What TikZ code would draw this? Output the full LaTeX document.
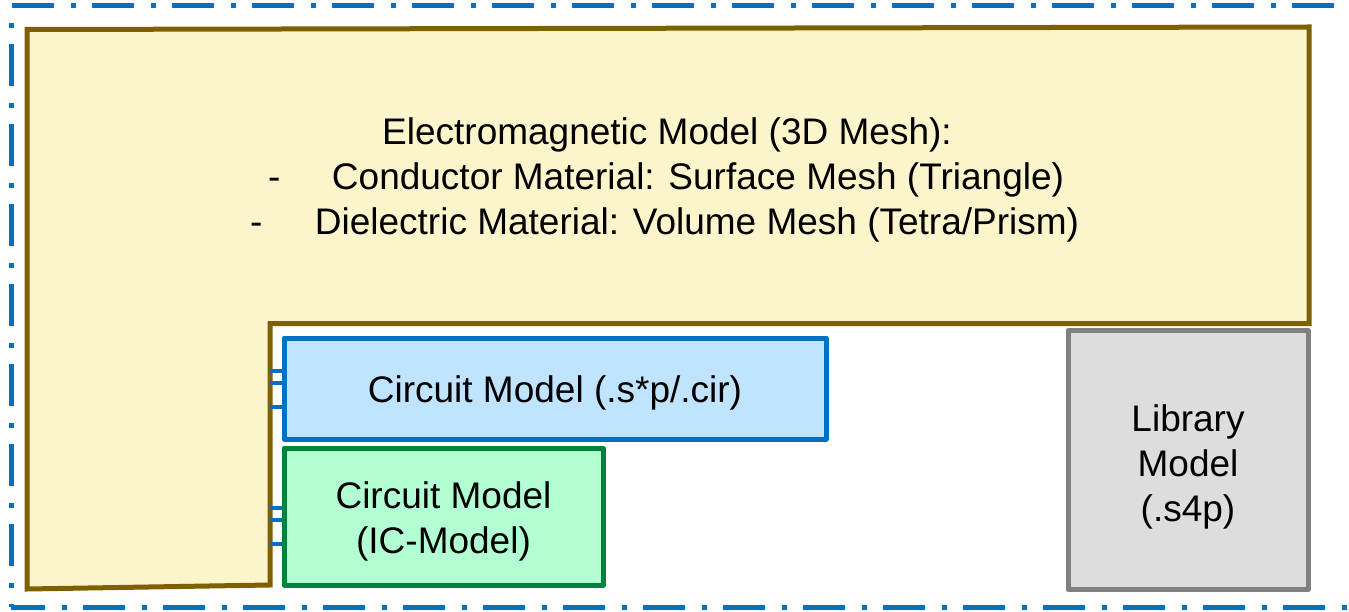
\documentclass[tikz,border=0pt]{standalone}
\usepackage{fontspec}
\setmainfont{Liberation Sans}
\definecolor{bdr}{HTML}{0070C0}
\definecolor{yfill}{HTML}{FCF4CA}
\definecolor{ystroke}{HTML}{7F6000}
\definecolor{bfill}{HTML}{C0E4FF}
\definecolor{gfill}{HTML}{B3FFD4}
\definecolor{gstroke}{HTML}{00843D}
\definecolor{lfill}{HTML}{DDDDDD}
\definecolor{lstroke}{HTML}{808080}
\tikzset{
  border/.style={draw=bdr, line width=5pt, dash pattern=on 42pt off 17pt on 5pt off 16pt},
  txt/.style={font=\fontsize{37}{45}\selectfont, inner sep=0pt, text=black, align=center},
  box/.style={line width=5pt, line join=round, inner sep=0pt},
  stub/.style={draw=bdr, line width=4pt},
}
\begin{document}
\begin{tikzpicture}[x=1pt,y=-1pt]
\useasboundingbox (0,0) rectangle (1349,612);
% dash-dot frame
\draw[border] (12,6) -- (1352,6);
\draw[border, dash phase=42pt] (11,6) -- (11,607);
\draw[border, dash phase=8pt] (11,607) -- (1352,607);
% electromagnetic L-shape
\draw[draw=ystroke, fill=yfill, line width=5pt, line join=miter]
  (27,29.5) -- (1309,27) -- (1309,323.5) -- (270,323.5) -- (270,585) -- (27,589) -- cycle;
\node[txt, anchor=base] (em1) at (667,145) {Electromagnetic Model (3D Mesh):};
\node[txt, anchor=base west] (d1) at (268,190) {-};
\node[txt, anchor=base] (em2) at (698,190) {Conductor Material: Surface Mesh (Triangle)};
\node[txt, anchor=base west] (d2) at (250,235) {-};
\node[txt, anchor=base] (em3) at (697,235) {Dielectric Material: Volume Mesh (Tetra/Prism)};
% boxes
\node[box, draw=bdr, fill=bfill, minimum width=542pt, minimum height=101pt] (cir) at (555,388.5) {};
\node[box, draw=gstroke, fill=gfill, minimum width=319pt, minimum height=137pt] (ic) at (443.5,516.5) {};
\node[box, draw=lstroke, fill=lfill, minimum width=240pt, minimum height=259pt] (lib) at (1188,460) {};
\node[txt] (cirt) at ([yshift=-4pt]cir.center) {Circuit Model (.s*p/.cir)};
\node[txt] (ict) at ([yshift=-5pt]ic.center) {Circuit Model\\(IC-Model)};
\node[txt] (libt) at ([yshift=-7pt]lib.center) {Library\\Model\\(.s4p)};
% pin stubs
\foreach \yy in {371,383,407} \draw[stub] (cir.west |- 0,\yy) -- ++(-12,0);
\foreach \yy in {508,520,544} \draw[stub] (ic.west |- 0,\yy) -- ++(-12,0);
\end{tikzpicture}
\end{document}
